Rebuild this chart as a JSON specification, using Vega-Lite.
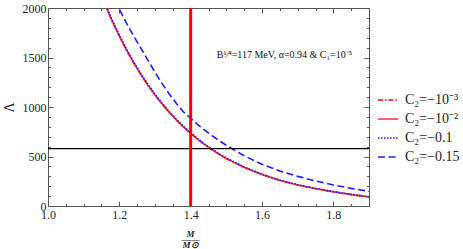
{
  "$schema": "https://vega.github.io/schema/vega-lite/v6.json",
  "width": 321,
  "height": 198,
  "autosize": {"type": "none"},
  "padding": {"left": 48, "top": 8, "right": 94, "bottom": 43},
  "background": "white",
  "config": {
    "view": {"stroke": "#555", "strokeWidth": 1},
    "font": "Liberation Serif",
    "axis": {"labelFont": "Liberation Serif", "titleFont": "Liberation Serif", "labelColor": "#222", "titleColor": "#222", "domain": false, "grid": false, "tickColor": "#555"},
    "legend": {"labelFont": "Liberation Serif"}
  },
  "datasets": {
    "curves": [
      {"M": 1.16, "L": 2033, "s": "C₂=−10⁻³"}, {"M": 1.18, "L": 1867, "s": "C₂=−10⁻³"}, {"M": 1.20, "L": 1715, "s": "C₂=−10⁻³"}, {"M": 1.22, "L": 1575, "s": "C₂=−10⁻³"}, {"M": 1.24, "L": 1447, "s": "C₂=−10⁻³"}, {"M": 1.26, "L": 1329, "s": "C₂=−10⁻³"}, {"M": 1.28, "L": 1221, "s": "C₂=−10⁻³"}, {"M": 1.30, "L": 1121, "s": "C₂=−10⁻³"}, {"M": 1.32, "L": 1030, "s": "C₂=−10⁻³"}, {"M": 1.34, "L": 946, "s": "C₂=−10⁻³"}, {"M": 1.36, "L": 869, "s": "C₂=−10⁻³"}, {"M": 1.38, "L": 798, "s": "C₂=−10⁻³"}, {"M": 1.40, "L": 733, "s": "C₂=−10⁻³"}, {"M": 1.42, "L": 673, "s": "C₂=−10⁻³"}, {"M": 1.44, "L": 618, "s": "C₂=−10⁻³"}, {"M": 1.46, "L": 568, "s": "C₂=−10⁻³"}, {"M": 1.48, "L": 522, "s": "C₂=−10⁻³"}, {"M": 1.50, "L": 479, "s": "C₂=−10⁻³"}, {"M": 1.55, "L": 390, "s": "C₂=−10⁻³"}, {"M": 1.60, "L": 318, "s": "C₂=−10⁻³"}, {"M": 1.65, "L": 258, "s": "C₂=−10⁻³"}, {"M": 1.70, "L": 212, "s": "C₂=−10⁻³"}, {"M": 1.75, "L": 175, "s": "C₂=−10⁻³"}, {"M": 1.80, "L": 143, "s": "C₂=−10⁻³"}, {"M": 1.85, "L": 115, "s": "C₂=−10⁻³"}, {"M": 1.90, "L": 91, "s": "C₂=−10⁻³"},
      {"M": 1.16, "L": 2033, "s": "C₂=−10⁻²"}, {"M": 1.18, "L": 1867, "s": "C₂=−10⁻²"}, {"M": 1.20, "L": 1715, "s": "C₂=−10⁻²"}, {"M": 1.22, "L": 1575, "s": "C₂=−10⁻²"}, {"M": 1.24, "L": 1447, "s": "C₂=−10⁻²"}, {"M": 1.26, "L": 1329, "s": "C₂=−10⁻²"}, {"M": 1.28, "L": 1221, "s": "C₂=−10⁻²"}, {"M": 1.30, "L": 1121, "s": "C₂=−10⁻²"}, {"M": 1.32, "L": 1030, "s": "C₂=−10⁻²"}, {"M": 1.34, "L": 946, "s": "C₂=−10⁻²"}, {"M": 1.36, "L": 869, "s": "C₂=−10⁻²"}, {"M": 1.38, "L": 798, "s": "C₂=−10⁻²"}, {"M": 1.40, "L": 733, "s": "C₂=−10⁻²"}, {"M": 1.42, "L": 673, "s": "C₂=−10⁻²"}, {"M": 1.44, "L": 618, "s": "C₂=−10⁻²"}, {"M": 1.46, "L": 568, "s": "C₂=−10⁻²"}, {"M": 1.48, "L": 522, "s": "C₂=−10⁻²"}, {"M": 1.50, "L": 479, "s": "C₂=−10⁻²"}, {"M": 1.55, "L": 390, "s": "C₂=−10⁻²"}, {"M": 1.60, "L": 318, "s": "C₂=−10⁻²"}, {"M": 1.65, "L": 258, "s": "C₂=−10⁻²"}, {"M": 1.70, "L": 212, "s": "C₂=−10⁻²"}, {"M": 1.75, "L": 175, "s": "C₂=−10⁻²"}, {"M": 1.80, "L": 143, "s": "C₂=−10⁻²"}, {"M": 1.85, "L": 115, "s": "C₂=−10⁻²"}, {"M": 1.90, "L": 91, "s": "C₂=−10⁻²"},
      {"M": 1.16, "L": 2045, "s": "C₂=−0.1"}, {"M": 1.18, "L": 1880, "s": "C₂=−0.1"}, {"M": 1.20, "L": 1727, "s": "C₂=−0.1"}, {"M": 1.22, "L": 1587, "s": "C₂=−0.1"}, {"M": 1.24, "L": 1458, "s": "C₂=−0.1"}, {"M": 1.26, "L": 1339, "s": "C₂=−0.1"}, {"M": 1.28, "L": 1231, "s": "C₂=−0.1"}, {"M": 1.30, "L": 1130, "s": "C₂=−0.1"}, {"M": 1.32, "L": 1039, "s": "C₂=−0.1"}, {"M": 1.34, "L": 954, "s": "C₂=−0.1"}, {"M": 1.36, "L": 877, "s": "C₂=−0.1"}, {"M": 1.38, "L": 805, "s": "C₂=−0.1"}, {"M": 1.40, "L": 740, "s": "C₂=−0.1"}, {"M": 1.42, "L": 680, "s": "C₂=−0.1"}, {"M": 1.44, "L": 624, "s": "C₂=−0.1"}, {"M": 1.46, "L": 574, "s": "C₂=−0.1"}, {"M": 1.48, "L": 528, "s": "C₂=−0.1"}, {"M": 1.50, "L": 484, "s": "C₂=−0.1"}, {"M": 1.55, "L": 395, "s": "C₂=−0.1"}, {"M": 1.60, "L": 322, "s": "C₂=−0.1"}, {"M": 1.65, "L": 262, "s": "C₂=−0.1"}, {"M": 1.70, "L": 215, "s": "C₂=−0.1"}, {"M": 1.75, "L": 178, "s": "C₂=−0.1"}, {"M": 1.80, "L": 146, "s": "C₂=−0.1"}, {"M": 1.85, "L": 118, "s": "C₂=−0.1"}, {"M": 1.90, "L": 94, "s": "C₂=−0.1"},
      {"M": 1.19, "L": 2080, "s": "C₂=−0.15"}, {"M": 1.20, "L": 1990, "s": "C₂=−0.15"}, {"M": 1.22, "L": 1847, "s": "C₂=−0.15"}, {"M": 1.24, "L": 1718, "s": "C₂=−0.15"}, {"M": 1.26, "L": 1598, "s": "C₂=−0.15"}, {"M": 1.28, "L": 1474, "s": "C₂=−0.15"}, {"M": 1.30, "L": 1350, "s": "C₂=−0.15"}, {"M": 1.32, "L": 1236, "s": "C₂=−0.15"}, {"M": 1.34, "L": 1132, "s": "C₂=−0.15"}, {"M": 1.36, "L": 1036, "s": "C₂=−0.15"}, {"M": 1.38, "L": 950, "s": "C₂=−0.15"}, {"M": 1.40, "L": 885, "s": "C₂=−0.15"}, {"M": 1.42, "L": 822, "s": "C₂=−0.15"}, {"M": 1.44, "L": 764, "s": "C₂=−0.15"}, {"M": 1.46, "L": 710, "s": "C₂=−0.15"}, {"M": 1.48, "L": 660, "s": "C₂=−0.15"}, {"M": 1.50, "L": 613, "s": "C₂=−0.15"}, {"M": 1.55, "L": 508, "s": "C₂=−0.15"}, {"M": 1.60, "L": 421, "s": "C₂=−0.15"}, {"M": 1.65, "L": 353, "s": "C₂=−0.15"}, {"M": 1.70, "L": 299, "s": "C₂=−0.15"}, {"M": 1.75, "L": 253, "s": "C₂=−0.15"}, {"M": 1.80, "L": 213, "s": "C₂=−0.15"}, {"M": 1.85, "L": 178, "s": "C₂=−0.15"}, {"M": 1.90, "L": 149, "s": "C₂=−0.15"}
    ],
    "one": [{"k": 1}]
  },
  "resolve": {"axis": {"x": "independent", "y": "independent"}},
  "layer": [
    {
      "data": {"name": "curves"},
      "mark": {"type": "line", "clip": true, "strokeWidth": 1.6},
      "encoding": {
        "x": {"field": "M", "type": "quantitative", "scale": {"domain": [1, 1.9], "nice": false, "zero": false},
          "axis": {"orient": "bottom", "values": [1, 1.05, 1.1, 1.15, 1.2, 1.25, 1.3, 1.35, 1.4, 1.45, 1.5, 1.55, 1.6, 1.65, 1.7, 1.75, 1.8, 1.85],
            "labelExpr": "abs(datum.value*5 - round(datum.value*5)) < 0.000001 ? format(datum.value, '.1f') : ''",
            "tickSize": {"condition": {"test": "abs(datum.value*5 - round(datum.value*5)) < 0.000001", "value": -5}, "value": -2.5},
            "labelFontSize": 12, "labelPadding": 8, "labelFlush": false,
            "title": ["M", "——", "M⊙"], "titleFontSize": 9, "titleFontStyle": "italic", "titleLineHeight": 5.5, "titlePadding": 9, "titleX": 142}},
        "y": {"field": "L", "type": "quantitative", "scale": {"domain": [0, 2000], "nice": false},
          "axis": {"orient": "left", "values": [0, 100, 200, 300, 400, 500, 600, 700, 800, 900, 1000, 1100, 1200, 1300, 1400, 1500, 1600, 1700, 1800, 1900, 2000],
            "labelExpr": "datum.value % 500 === 0 ? datum.label : ''",
            "tickSize": {"condition": {"test": "datum.value % 500 === 0", "value": -5}, "value": -2.5},
            "labelFontSize": 12, "labelPadding": 7, "labelFlush": false, "format": "d",
            "title": "Λ", "titleFontSize": 14, "titleFontWeight": "normal", "titlePadding": 6}},
        "color": {"field": "s", "type": "nominal", "sort": ["C₂=−10⁻³", "C₂=−10⁻²", "C₂=−0.1", "C₂=−0.15"],
          "scale": {"domain": ["C₂=−10⁻³", "C₂=−10⁻²", "C₂=−0.1", "C₂=−0.15"], "range": ["#ff0000", "#ff3030", "#1a1aff", "#1a1aff"]},
          "legend": {"orient": "none", "legendX": 329, "legendY": 81, "title": null, "labelFontSize": 14, "symbolType": "stroke", "symbolSize": 400, "symbolStrokeWidth": 1.6, "rowPadding": 1, "labelOffset": 6, "labelColor": "#222"}},
        "strokeDash": {"field": "s", "type": "nominal", "sort": ["C₂=−10⁻³", "C₂=−10⁻²", "C₂=−0.1", "C₂=−0.15"],
          "scale": {"domain": ["C₂=−10⁻³", "C₂=−10⁻²", "C₂=−0.1", "C₂=−0.15"], "range": [[5, 2, 1.5, 2], [1, 0], [1.5, 1.5], [7, 3.5]]},
          "legend": {"orient": "none", "legendX": 329, "legendY": 81, "title": null, "labelFontSize": 14, "symbolType": "stroke", "symbolSize": 400, "symbolStrokeWidth": 1.6, "rowPadding": 1, "labelOffset": 6, "labelColor": "#222"}},
        "order": {"field": "s", "sort": "descending"}
      }
    },
    {
      "data": {"name": "curves"},
      "mark": {"type": "point", "opacity": 0},
      "encoding": {
        "x": {"field": "M", "type": "quantitative", "scale": {"domain": [1, 1.9], "nice": false, "zero": false},
          "axis": {"orient": "top", "values": [1, 1.05, 1.1, 1.15, 1.2, 1.25, 1.3, 1.35, 1.4, 1.45, 1.5, 1.55, 1.6, 1.65, 1.7, 1.75, 1.8, 1.85], "labels": false, "title": null,
            "tickSize": {"condition": {"test": "abs(datum.value*5 - round(datum.value*5)) < 0.000001", "value": -5}, "value": -2.5}}},
        "y": {"field": "L", "type": "quantitative", "scale": {"domain": [0, 2000], "nice": false},
          "axis": {"orient": "right", "values": [0, 100, 200, 300, 400, 500, 600, 700, 800, 900, 1000, 1100, 1200, 1300, 1400, 1500, 1600, 1700, 1800, 1900, 2000], "labels": false, "title": null,
            "tickSize": {"condition": {"test": "datum.value % 500 === 0", "value": -5}, "value": -2.5}}}
      }
    },
    {
      "data": {"name": "one"},
      "mark": {"type": "rule", "color": "#000000", "strokeWidth": 1.2},
      "encoding": {"y": {"datum": 580, "type": "quantitative", "axis": null}}
    },
    {
      "data": {"name": "one"},
      "mark": {"type": "rule", "color": "#ff0000", "strokeWidth": 3},
      "encoding": {"x": {"datum": 1.4, "type": "quantitative", "axis": null}}
    },
    {
      "data": {"name": "one"},
      "mark": {"type": "text", "font": "Liberation Serif", "fontSize": 10, "color": "#111", "align": "center", "baseline": "middle"},
      "encoding": {
        "x": {"datum": 1.663, "type": "quantitative", "axis": null},
        "y": {"datum": 1527, "type": "quantitative", "axis": null},
        "text": {"value": "B¹⁄⁴=117 MeV, α=0.94 & C₁=10⁻⁵"}
      }
    }
  ]
}
